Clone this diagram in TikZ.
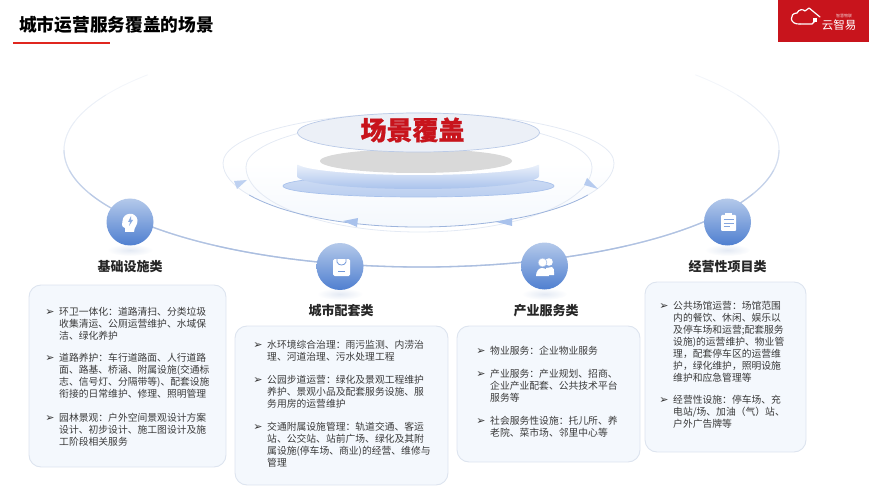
\documentclass[tikz,border=0pt]{standalone}
\usepackage{fontspec}
\setmainfont{Noto Sans CJK SC}
\newfontfamily\heavycjk[BoldFeatures={FakeBold=0.8}]{Noto Sans CJK SC}
\newfontfamily\dejavu{DejaVu Sans}
\usetikzlibrary{
calc,
shapes.geometric,
}
\definecolor{logored}{HTML}{C8141C}
\definecolor{barred}{HTML}{E0261F}
\definecolor{bodygray}{HTML}{3A3A3A}
\definecolor{cardfill}{HTML}{F4F8FD}
\definecolor{carddraw}{HTML}{DDE4EF}
\definecolor{ballhi}{HTML}{B4C9EA}
\definecolor{balllo}{HTML}{4F7FD0}
\definecolor{ringblue}{HTML}{9DB4DC}
\definecolor{ringpale}{HTML}{E4EAF4}
\definecolor{plateblue}{HTML}{A9C2EC}
\tikzset{
	cardbox/.style={draw=carddraw, line width=.9pt, fill=cardfill, rounded corners=12pt, inner sep=0pt},
	iconball/.style={circle, minimum size=47pt, inner sep=0pt, top color=ballhi, bottom color=balllo},
	ballshadow/.style={ellipse, minimum width=46pt, minimum height=12pt, inner sep=0pt, shading=radial, inner color=ringpale, outer color=white},
	headline/.style={font=\fontsize{13}{15}\selectfont\bfseries, text=black!85},
	itemtext/.style={font=\fontsize{9.8}{12}\selectfont, text=bodygray, anchor=north west, align=left, inner sep=0pt},
	itemmark/.style={font=\dejavu\fontsize{11}{11}\selectfont, text=black!80, inner sep=0pt},
	iconshape/.style={fill=white, draw=none},
}
\begin{document}
\begin{tikzpicture}[x=1pt, y=-1pt]
	\useasboundingbox (0,0) rectangle (887,500);

	% header
	\node [font=\fontsize{17.7}{20}\selectfont\bfseries, anchor=west, inner sep=0pt] (pagetitle) at (19,25) {城市运营服务覆盖的场景};
	\fill [barred] (13,42) rectangle (110,44);
	\fill [logored] (778,0) rectangle (869,42);
	\draw [white, line width=1.2pt, line cap=round, line join=round]
		(800,24) .. controls (789,25) and (789,13) .. (797,13)
		.. controls (799,9) and (803,9) .. (805,11) -- (809,8) -- (820,17);
	\draw [white, line width=1.2pt, line cap=round] (800,24) -- (812,24) -- (815,21);
	\fill [white] (813,18) rectangle (817,22);
	\node [font=\fontsize{11.5}{12}\selectfont, text=white, inner sep=0pt] (logoname) at (839,25) {云智易};
	\node [font=\fontsize{4}{5}\selectfont, text=white!80!logored, inner sep=0pt] (logotag) at (844,15.5) {智慧物联};

	% outer ring, fading towards the top
	\foreach \s/\o in {-40/.25,-28/.3,-14/.3} {
		\draw [ringpale, line width=.9pt, opacity=\o+.2] ($(421.5,150)+(\s:357.5 and 117)$) arc [start angle=\s, end angle=180-\s, x radius=357.5, y radius=117];
	}
	\foreach \s in {0,10,22,36,55} {
		\draw [ringblue, line width=1.3pt, opacity=.28] ($(421.5,150)+(\s:357.5 and 117)$) arc [start angle=\s, end angle=180-\s, x radius=357.5, y radius=117];
	}

	% glow under the plate
	\shade [top color=white, bottom color=cardfill] (223,163) arc [start angle=180, end angle=0, x radius=195.5, y radius=64] -- cycle;

	% inner rings
	\draw [ringpale, line width=.8pt] (223,163) arc [start angle=180, end angle=360, x radius=195.5, y radius=50];
	\draw [ringpale, line width=.8pt] (246,167) arc [start angle=180, end angle=360, x radius=173, y radius=47];
	\draw [ringpale, line width=.8pt] (246,167) arc [start angle=180, end angle=0, x radius=173, y radius=65];
	\draw [ringpale, line width=.8pt] (223,163) arc [start angle=180, end angle=150, x radius=195.5, y radius=64];
	\draw [ringpale, line width=.8pt] (614,163) arc [start angle=0, end angle=30, x radius=195.5, y radius=64];
	\draw [ringblue, line width=.8pt] ($(418.5,163)+(150:195.5 and 64)$) arc [start angle=150, end angle=30, x radius=195.5, y radius=64];

	% arrow heads on the ring
	\fill [plateblue!75] (234,181) -- (247,180) -- (237,189) -- cycle;
	\fill [plateblue!85] (587,178) -- (598,189) -- (584,185) -- cycle;
	\fill [plateblue] (343,221) -- (358,218) -- (357,227) -- cycle;
	\fill [plateblue] (496,222) -- (512,218) -- (512,226) -- cycle;

	% stacked plates
	\draw [plateblue, line width=.7pt, top color=plateblue!55, bottom color=plateblue!80] (283,186) arc [start angle=180, end angle=540, x radius=135.5, y radius=11];
	\shade [top color=plateblue!25, bottom color=plateblue] (297,165) -- (539,165) -- (539,176) arc [start angle=0, end angle=180, x radius=121, y radius=13] -- cycle;
	\fill [white] (418,163) ellipse [x radius=121, y radius=12];
	\fill [black!15] (416,161) ellipse [x radius=96, y radius=12];
	\draw [ringblue!70, line width=.7pt, fill=ringpale!70] (418.5,132.5) ellipse [x radius=121, y radius=19.5];
	\node [font=\heavycjk\fontsize{26}{28}\selectfont\bfseries, text=logored, inner sep=0pt] (scenetitle) at (412.5,130) {场景覆盖};

	% category balls
	\node [ballshadow] (shadowA) at (130,250) {};
	\node [ballshadow] (shadowB) at (340,294) {};
	\node [ballshadow] (shadowC) at (544.5,294) {};
	\node [ballshadow] (shadowD) at (727.5,250) {};
	\node [iconball] (ballA) at (130,222) {};
	\node [iconball] (ballB) at (340,266.5) {};
	\node [iconball] (ballC) at (544.5,266) {};
	\node [iconball] (ballD) at (727.5,222) {};

	% head icon
	\fill [iconshape] (125,232) -- (125,228) .. controls (121,227) and (122,223) .. (122.5,221)
		.. controls (123,212) and (136,211) .. (137.5,220) .. controls (138,225) and (134,227) .. (134,232) -- cycle;
	\fill [ballhi!60!balllo] (131,216) -- (128,222) -- (130,222) -- (129,226) -- (133,220) -- (131,220) -- cycle;
	% bag icon
	\fill [iconshape, rounded corners=1.5pt] (333,259) rectangle (350,276);
	\draw [balllo!80, line width=.8pt] (337,259) -- (337,262) .. controls (338,266) and (345,266) .. (346,262) -- (346,259);
	\draw [balllo!80, line width=.8pt] (338,271) -- (345,271);
	% people icon
	\fill [iconshape] (549,262) circle [radius=3.8];
	\fill [iconshape] (546,275) -- (546,268) -- (552,267) .. controls (554,268) and (554,270) .. (554,272) -- (554,275) -- cycle;
	\draw [balllo!50, line width=.6pt, fill=white] (542.5,262.5) circle [radius=4.4];
	\fill [iconshape] (536,276) .. controls (536,271) and (539,268) .. (542,268) .. controls (546,268) and (549,271) .. (549,276) -- cycle;
	% clipboard icon
	\fill [iconshape, rounded corners=1pt] (721,215) rectangle (736,231);
	\fill [iconshape] (725,213.5) rectangle (732,216);
	\foreach \r/\w in {219.5/10,223/10,226.5/6} {
		\draw [balllo!70, line width=.9pt] (723.5,\r) -- ++(\w,0);
	}

	% category names
	\node [headline] (headA) at (130,267) {基础设施类};
	\node [headline] (headB) at (341,311) {城市配套类};
	\node [headline] (headC) at (546,311) {产业服务类};
	\node [headline] (headD) at (727.5,267) {经营性项目类};

	% cards
	\node [cardbox, minimum width=197pt, minimum height=182pt] (cardA) at (127.5,376) {};
	\node [cardbox, minimum width=213pt, minimum height=159pt] (cardB) at (341.5,405.5) {};
	\node [cardbox, minimum width=183pt, minimum height=136pt] (cardC) at (548.5,394) {};
	\node [cardbox, minimum width=161pt, minimum height=170pt] (cardD) at (725.5,367) {};

	% card texts
	\node [itemtext] (textA1) at (59,307) {环卫一体化：道路清扫、分类垃圾\\收集清运、公厕运营维护、水域保\\洁、绿化养护};
	\node [itemtext] (textA2) at (59,353) {道路养护：车行道路面、人行道路\\面、路基、桥涵、附属设施(交通标\\志、信号灯、分隔带等)、配套设施\\衔接的日常维护、修理、照明管理};
	\node [itemtext] (textA3) at (59,413) {园林景观：户外空间景观设计方案\\设计、初步设计、施工图设计及施\\工阶段相关服务};
	\node [itemmark] (markA1) at (50,313) {➢};
	\node [itemmark] (markA2) at (50,359) {➢};
	\node [itemmark] (markA3) at (50,419) {➢};

	\node [itemtext] (textB1) at (267,340) {水环境综合治理：雨污监测、内涝治\\理、河道治理、污水处理工程};
	\node [itemtext] (textB2) at (267,375) {公园步道运营：绿化及景观工程维护\\养护、景观小品及配套服务设施、服\\务用房的运营维护};
	\node [itemtext] (textB3) at (267,422) {交通附属设施管理：轨道交通、客运\\站、公交站、站前广场、绿化及其附\\属设施(停车场、商业)的经营、维修与\\管理};
	\node [itemmark] (markB1) at (258,346) {➢};
	\node [itemmark] (markB2) at (258,381) {➢};
	\node [itemmark] (markB3) at (258,428) {➢};

	\node [itemtext] (textC1) at (490,346) {物业服务：企业物业服务};
	\node [itemtext] (textC2) at (490,369) {产业服务：产业规划、招商、\\企业产业配套、公共技术平台\\服务等};
	\node [itemtext] (textC3) at (490,416) {社会服务性设施：托儿所、养\\老院、菜市场、邻里中心等};
	\node [itemmark] (markC1) at (481,352) {➢};
	\node [itemmark] (markC2) at (481,375) {➢};
	\node [itemmark] (markC3) at (481,422) {➢};

	\node [itemtext] (textD1) at (673,301) {公共场馆运营：场馆范围\\内的餐饮、休闲、娱乐以\\及停车场和运营;配套服务\\设施)的运营维护、物业管\\理，配套停车区的运营维\\护，绿化维护，照明设施\\维护和应急管理等};
	\node [itemtext] (textD2) at (673,395) {经营性设施：停车场、充\\电站/场、加油（气）站、\\户外广告牌等};
	\node [itemmark] (markD1) at (664,307) {➢};
	\node [itemmark] (markD2) at (664,401) {➢};
\end{tikzpicture}
\end{document}
